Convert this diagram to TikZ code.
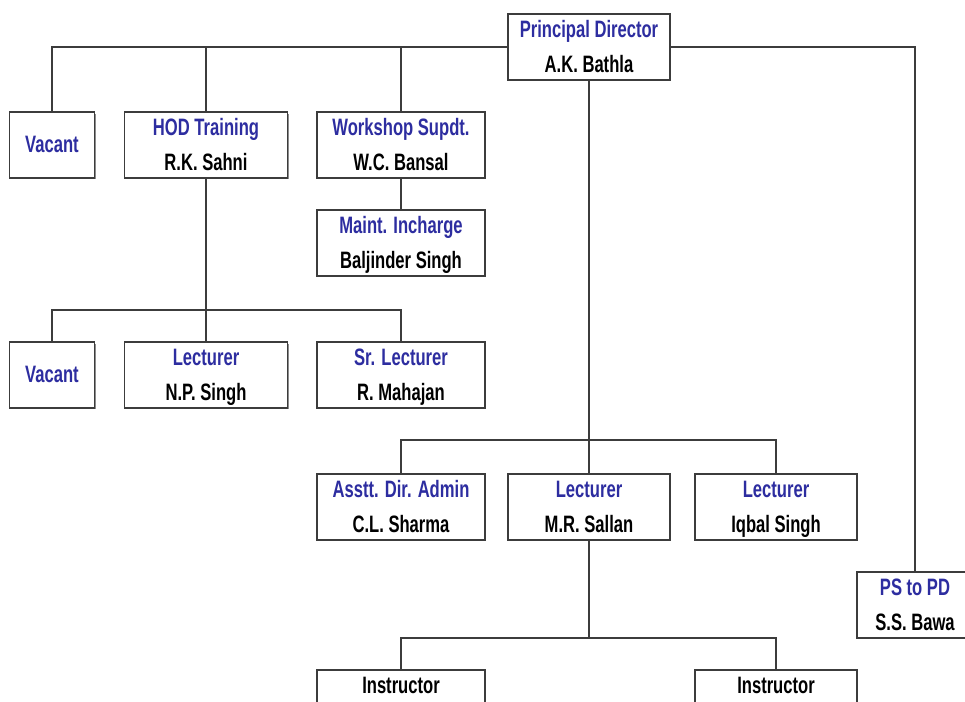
\documentclass[tikz,border=0pt]{standalone}
\usepackage{fontspec}
\setmainfont{Liberation Sans}[FakeStretch=0.7]
\usetikzlibrary{shadows}
\definecolor{postblue}{RGB}{45,45,160}
\definecolor{linegray}{RGB}{60,60,60}
\begin{document}
\begin{tikzpicture}[%
    x=0.02cm, y=-0.02cm,
    box/.style={draw=linegray,line width=1.1pt,fill=white,align=center,
      minimum height=1.32cm,inner sep=0pt,
      font=\bfseries\fontsize{13.5}{19.9}\selectfont,
      text height=32pt,text depth=3pt,
      drop shadow={shadow xshift=0.03cm,shadow yshift=-0.03cm,fill=black!45,opacity=1}},
    single/.style={box,text height=12.1pt},
    link/.style={draw=linegray,line width=0.85pt}
  ]
		\clip (0,0) rectangle (965,702);
		\fill[white] (0,0) rectangle (965,702);

		% top
		\node at (589,47) [box,minimum width=3.24cm] (pd)
			{\textcolor{postblue}{Principal Director}\\A.K. Bathla};

		% first row
		\node at (52,145) [single,minimum width=1.7cm] (vac1)
			{\textcolor{postblue}{Vacant}};
		\node at (206,145) [box,minimum width=3.26cm] (hod)
			{\textcolor{postblue}{HOD Training}\\R.K. Sahni};
		\node at (401,145) [box,minimum width=3.36cm] (ws)
			{\textcolor{postblue}{Workshop Supdt.}\\W.C. Bansal};
		\node at (401,243) [box,minimum width=3.36cm] (maint)
			{\textcolor{postblue}{Maint. Incharge}\\Baljinder Singh};

		% under HOD
		\node at (52,375) [single,minimum width=1.7cm] (vac2)
			{\textcolor{postblue}{Vacant}};
		\node at (206,375) [box,minimum width=3.26cm] (lec1)
			{\textcolor{postblue}{Lecturer}\\N.P. Singh};
		\node at (401,375) [box,minimum width=3.36cm] (srlec)
			{\textcolor{postblue}{Sr. Lecturer}\\R. Mahajan};

		% under PD
		\node at (401,507) [box,minimum width=3.36cm] (admin)
			{\textcolor{postblue}{Asstt. Dir. Admin}\\C.L. Sharma};
		\node at (589,507) [box,minimum width=3.24cm] (lec2)
			{\textcolor{postblue}{Lecturer}\\M.R. Sallan};
		\node at (776,507) [box,minimum width=3.24cm] (lec3)
			{\textcolor{postblue}{Lecturer}\\Iqbal Singh};
		\node at (915,605) [box,minimum width=2.32cm] (ps)
			{\textcolor{postblue}{PS to PD}\\S.S. Bawa};

		% under M.R. Sallan
		\node at (401,703) [box,minimum width=3.36cm] (inst1)
			{Instructor\\\phantom{X}};
		\node at (776,703) [box,minimum width=3.24cm] (inst2)
			{Instructor\\\phantom{X}};

		\coordinate (bus1) at (206,310);
		\coordinate (bus2) at (589,440);
		\coordinate (bus3) at (589,638);

		\path[link] (pd.west) -| (vac1.north);
		\path[link] (pd.west) -| (hod.north);
		\path[link] (pd.west) -| (ws.north);
		\path[link] (pd.east) -| (ps.north);
		\path[link] (ws.south) -- (maint.north);
		\path[link] (hod.south) -- (bus1) -| (vac2.north);
		\path[link] (bus1) -| (srlec.north);
		\path[link] (bus1) -- (lec1.north);
		\path[link] (pd.south) -- (bus2) -| (admin.north);
		\path[link] (bus2) -| (lec3.north);
		\path[link] (bus2) -- (lec2.north);
		\path[link] (lec2.south) -- (bus3) -| (inst1.north);
		\path[link] (bus3) -| (inst2.north);
	\end{tikzpicture}
\end{document}
